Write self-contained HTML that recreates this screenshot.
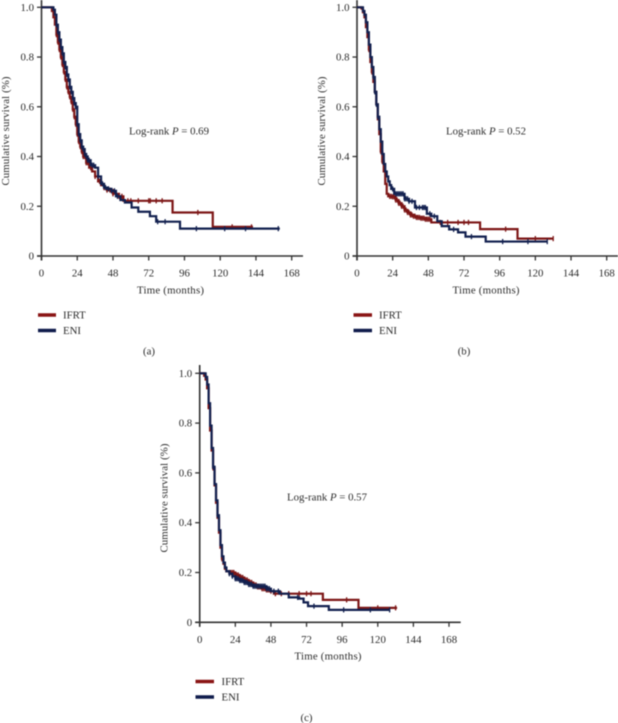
<!DOCTYPE html>
<html lang="en">
<head>
<meta charset="utf-8">
<title>Cumulative survival curves IFRT vs ENI</title>
<style>
html,body{margin:0;padding:0;background:#fff;width:618px;height:723px;overflow:hidden}
svg{display:block;filter:blur(0.5px)}
text{font-family:"Liberation Serif",serif;font-size:10.8px;fill:#2a2a2a}
</style>
</head>
<body>
<svg id="chart" width="618" height="723" viewBox="0 0 618 723" xmlns="http://www.w3.org/2000/svg">
  <g>
    <text transform="translate(9,131) rotate(-90)" text-anchor="middle" textLength="109" lengthAdjust="spacing">Cumulative survival (%)</text>
    <text x="137" y="293.5" textLength="67" lengthAdjust="spacing">Time (months)</text>
    <text x="129" y="134.5" textLength="80" lengthAdjust="spacing">Log-rank <tspan font-style="italic">P</tspan> = 0.69</text>
    <line x1="38" x2="56" y1="315" y2="315" stroke="#8a1414" stroke-width="3.4"/>
    <text x="63" y="318.5">IFRT</text>
    <line x1="38" x2="56" y1="330.5" y2="330.5" stroke="#101c4c" stroke-width="3.4"/>
    <text x="63" y="334">ENI</text>
    <text x="149" y="354.5" text-anchor="middle">(a)</text>
  </g>
  <g>
    <text transform="translate(325,131) rotate(-90)" text-anchor="middle" textLength="109" lengthAdjust="spacing">Cumulative survival (%)</text>
    <text x="452.5" y="293.5" textLength="67" lengthAdjust="spacing">Time (months)</text>
    <text x="446" y="134.5" textLength="80" lengthAdjust="spacing">Log-rank <tspan font-style="italic">P</tspan> = 0.52</text>
    <line x1="353.5" x2="372" y1="315" y2="315" stroke="#8a1414" stroke-width="3.4"/>
    <text x="379" y="318.5">IFRT</text>
    <line x1="353.5" x2="372" y1="330.5" y2="330.5" stroke="#101c4c" stroke-width="3.4"/>
    <text x="379" y="334">ENI</text>
    <text x="464" y="354.5" text-anchor="middle">(b)</text>
  </g>
  <g>
    <text transform="translate(167.5,498) rotate(-90)" text-anchor="middle" textLength="109" lengthAdjust="spacing">Cumulative survival (%)</text>
    <text x="294.5" y="659.5" textLength="67" lengthAdjust="spacing">Time (months)</text>
    <text x="287" y="500.5" textLength="80" lengthAdjust="spacing">Log-rank <tspan font-style="italic">P</tspan> = 0.57</text>
    <line x1="195.5" x2="214" y1="681.5" y2="681.5" stroke="#8a1414" stroke-width="3.4"/>
    <text x="221.5" y="685">IFRT</text>
    <line x1="195.5" x2="214" y1="697" y2="697" stroke="#101c4c" stroke-width="3.4"/>
    <text x="221.5" y="700.5">ENI</text>
    <text x="306.5" y="721" text-anchor="middle">(c)</text>
  </g>
</svg>
<script>
// Shared tick labels
const xTicks = [0, 24, 48, 72, 96, 120, 144, 168];
const yTicks = [0, 0.2, 0.4, 0.6, 0.8, 1.0];

// Panel (a) series: months and survival
const aIfrtTime = [0,5,7,8,9,10,11,12,13,14,15,16,17,18,19,20,21,22,23,24,25,26,27,28,30,32,34,36,38,40,42,44,48,52,55,88,115,142];
const aIfrtSurv = [1,1,0.985,0.96,0.93,0.89,0.86,0.83,0.80,0.77,0.74,0.71,0.68,0.66,0.64,0.62,0.59,0.56,0.53,0.49,0.46,0.44,0.42,0.40,0.375,0.355,0.34,0.32,0.30,0.285,0.275,0.265,0.25,0.24,0.222,0.175,0.117,0.117];
const aEniTime = [0,6,8,9,10,11,12,13,14,15,16,17,18,19,20,21,22,23,24,25,26,27,28,29,30,31,33,36,38,40,42,44,47,50,53,56,60.5,65,72.8,77,93,160];
const aEniSurv = [1,1,0.99,0.97,0.93,0.90,0.87,0.84,0.815,0.78,0.76,0.73,0.71,0.68,0.66,0.635,0.615,0.60,0.53,0.49,0.465,0.44,0.43,0.41,0.40,0.385,0.365,0.355,0.32,0.29,0.275,0.27,0.262,0.24,0.225,0.215,0.195,0.178,0.16,0.138,0.11,0.11];
const aIfrtCensor = [10,11,12,13,14,15,16,17,18,19,20,21,22,23,24,25,26,27,28,29,30,31,33,36,39,42,44,46,48,50,52,54,58,60,65,72,73,77,81,105,128,141];
const aEniCensor = [10,11,12,13,14,15,16,17,18,19,20,21,22,23,24,25,26,27,28,29,30,31,32,34,35,38,41,43,45,47,49,51,78,83,104,123,137,159];

// Panel (b) series
const bIfrtTime = [0,3,4,5,6,7,8,9,10,11,12,13,14,15,16,17,18,19,20,21,24,26,28,30,32,34,36,38,40,43,46,50,82.8,108,132];
const bIfrtSurv = [1,0.995,0.98,0.96,0.92,0.88,0.83,0.78,0.74,0.70,0.66,0.61,0.55,0.49,0.42,0.38,0.34,0.29,0.25,0.24,0.238,0.225,0.212,0.20,0.185,0.175,0.165,0.16,0.155,0.152,0.148,0.135,0.108,0.07,0.07];
const bEniTime = [0,3,4,5,6,7,8,9,10,11,12,13,14,15,16,17,18,19,20,21,22,23,25,29,32,35,39,44,47,50,54,57,62,68,73,86.6,128];
const bEniSurv = [1,1,0.985,0.97,0.94,0.90,0.85,0.80,0.76,0.72,0.66,0.61,0.56,0.51,0.46,0.41,0.37,0.34,0.32,0.30,0.285,0.27,0.25,0.25,0.23,0.22,0.195,0.195,0.17,0.16,0.14,0.12,0.107,0.095,0.078,0.058,0.058];
const bIfrtCensor = [8,10,16,17,22,23,24,25,26,27,28,29,30,31,32,33,34,35,36,37,38,39,40,41,42,43,44,45,46,47,48,49,56,61,68,72,75,100,120,132];
const bEniCensor = [11,12,13,14,24,26,27,28,29,30,31,32,33,34,35,37,40,42,44,45,46,49,52,65,77,98,115,128];

// Panel (c) series
const cIfrtTime = [0,2,3,4,5,6,7,8,9,10,11,12,13,14,15,16,17,18,20,24,27,30,33,36,39,42,45,48,50,83,107,133];
const cIfrtSurv = [1,1,0.99,0.975,0.94,0.86,0.77,0.69,0.62,0.55,0.48,0.42,0.36,0.30,0.255,0.235,0.215,0.205,0.20,0.19,0.18,0.17,0.16,0.15,0.142,0.135,0.13,0.125,0.115,0.09,0.058,0.058];
const cEniTime = [0,3,4,5,6,7,8,9,10,11,12,13,14,15,16,17,18,20,22,24,27,30,33,36,42,45,48,54,60,67,70,73,87,128];
const cEniSurv = [1,1,0.985,0.955,0.88,0.79,0.70,0.625,0.555,0.49,0.43,0.37,0.31,0.265,0.24,0.22,0.205,0.195,0.185,0.175,0.168,0.16,0.152,0.145,0.145,0.135,0.125,0.115,0.10,0.095,0.08,0.065,0.05,0.05];
const cIfrtCensor = [9,15,20,21,22,23,24,25,26,27,28,29,30,31,32,33,34,35,36,37,38,39,40,41,42,43,44,45,46,47,48,51,55,60,67,72,75,99,120,132];
const cEniCensor = [9,12,20,22,24,25,26,27,28,29,30,31,32,33,34,35,36,37,38,39,40,41,42,43,44,45,46,47,50,53,66,77,97,115,128];

const NS = 'http://www.w3.org/2000/svg';
const svg = document.getElementById('chart');
const IFRT_COLOR = '#7d1616';
const ENI_COLOR = '#12204f';

function survivalAt(times, survs, t) {
  let s = survs[0];
  for (let i = 0; i < times.length; i++) {
    if (times[i] <= t) s = survs[i];
  }
  return s;
}

function drawCurve(group, xScale, yScale, times, survs, censors, color, label) {
  let d = 'M' + xScale(times[0]) + ' ' + yScale(survs[0]);
  for (let i = 1; i < times.length; i++) {
    d += 'H' + xScale(times[i]) + 'V' + yScale(survs[i]);
  }
  const path = document.createElementNS(NS, 'path');
  
  
  path.setAttribute('d', d);
  path.setAttribute('fill', 'none');
  path.setAttribute('stroke', color);
  path.setAttribute('stroke-width', '2.2');
  group.appendChild(path);
  censors.forEach(function (t) {
    const mark = document.createElementNS(NS, 'line');
    const s = survivalAt(times, survs, t);
    
    
    mark.setAttribute('x1', xScale(t));
    mark.setAttribute('x2', xScale(t));
    mark.setAttribute('y1', yScale(s) - 2.6);
    mark.setAttribute('y2', yScale(s) + 2.6);
    mark.setAttribute('stroke', color);
    mark.setAttribute('stroke-width', '1.3');
    group.appendChild(mark);
  });
}

function drawAxes(group, xScale, yScale, axisRight, axisTop, panel) {
  const y0 = yScale(0), x0 = xScale(0);
  const yAxis = document.createElementNS(NS, 'line');
  
  
  yAxis.setAttribute('x1', x0);
  yAxis.setAttribute('x2', x0);
  yAxis.setAttribute('y1', axisTop);
  yAxis.setAttribute('y2', y0 + 4.5);
  yAxis.setAttribute('stroke', '#333');
  yAxis.setAttribute('stroke-width', '1.6');
  group.appendChild(yAxis);
  const xAxis = document.createElementNS(NS, 'line');
  
  
  xAxis.setAttribute('x1', x0 - 4.5);
  xAxis.setAttribute('x2', axisRight);
  xAxis.setAttribute('y1', y0);
  xAxis.setAttribute('y2', y0);
  xAxis.setAttribute('stroke', '#333');
  xAxis.setAttribute('stroke-width', '1.6');
  group.appendChild(xAxis);
  xTicks.forEach(function (v) {
    const tick = document.createElementNS(NS, 'line');
    
    
    tick.setAttribute('x1', xScale(v));
    tick.setAttribute('x2', xScale(v));
    tick.setAttribute('y1', y0);
    tick.setAttribute('y2', y0 + 4.5);
    tick.setAttribute('stroke', '#333');
    tick.setAttribute('stroke-width', '1.3');
    group.appendChild(tick);
    const lab = document.createElementNS(NS, 'text');
    
    
    lab.setAttribute('x', xScale(v));
    lab.setAttribute('y', y0 + 20.5);
    lab.setAttribute('text-anchor', 'middle');
    lab.textContent = String(v);
    group.appendChild(lab);
  });
  yTicks.forEach(function (v) {
    const tick = document.createElementNS(NS, 'line');
    
    
    tick.setAttribute('x1', x0 - 4.5);
    tick.setAttribute('x2', x0);
    tick.setAttribute('y1', yScale(v));
    tick.setAttribute('y2', yScale(v));
    tick.setAttribute('stroke', '#333');
    tick.setAttribute('stroke-width', '1.3');
    group.appendChild(tick);
    const lab = document.createElementNS(NS, 'text');
    
    
    lab.setAttribute('x', x0 - 7.5);
    lab.setAttribute('y', yScale(v) + 3.5);
    lab.setAttribute('text-anchor', 'end');
    lab.textContent = v === 0 ? '0' : v.toFixed(1);
    group.appendChild(lab);
  });
}

function drawPanel(panel, frame, ifrtT, ifrtS, ifrtC, eniT, eniS, eniC) {
  const xScale = function (t) { return frame.x0 + t * (frame.x168 - frame.x0) / 168; };
  const yScale = function (s) { return frame.y0 + s * (frame.y1 - frame.y0); };
  const group = document.createElementNS(NS, 'g');
  
  
  svg.appendChild(group);
  drawAxes(group, xScale, yScale, frame.right, frame.top, panel);
  drawCurve(group, xScale, yScale, ifrtT, ifrtS, ifrtC, IFRT_COLOR, 'ifrt-' + panel);
  drawCurve(group, xScale, yScale, eniT, eniS, eniC, ENI_COLOR, 'eni-' + panel);
}

drawPanel('a', {x0: 41.5, x168: 291.7, y0: 256, y1: 7.3, right: 303, top: 0}, aIfrtTime, aIfrtSurv, aIfrtCensor, aEniTime, aEniSurv, aEniCensor);
drawPanel('b', {x0: 357, x168: 606.7, y0: 256, y1: 7.3, right: 618, top: 0}, bIfrtTime, bIfrtSurv, bIfrtCensor, bEniTime, bEniSurv, bEniCensor);
drawPanel('c', {x0: 199.7, x168: 449, y0: 622.3, y1: 373.3, right: 460.7, top: 365}, cIfrtTime, cIfrtSurv, cIfrtCensor, cEniTime, cEniSurv, cEniCensor);
</script>
</body>
</html>
